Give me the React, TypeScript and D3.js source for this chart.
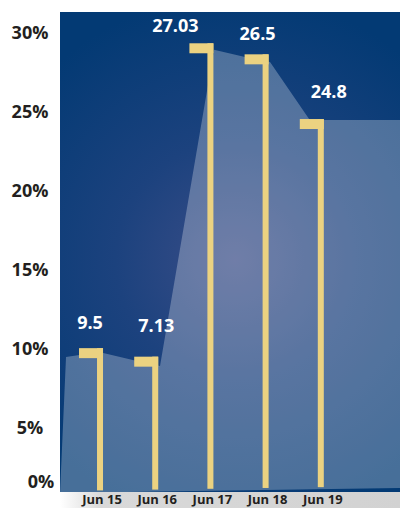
import React from "react";
import * as d3 from "d3";

// ---- data ----
const categories = ["Jun 15", "Jun 16", "Jun 17", "Jun 18", "Jun 19"];
const valueLabels = ["9.5", "7.13", "27.03", "26.5", "24.8"];
// level (in %) at which each marker cap sits
const markerLevels = [9.68, 9.14, 29.0, 28.3, 24.2];
const yTicks = [0, 5, 10, 15, 20, 25, 30];
// outline of the translucent area (category position, level %)
const areaPositions = [-0.616, -0.018, 0.67, 1.087, 2.065, 2.627, 3.08, 3.8, 5.435];
const areaLevels = [9.43, 9.75, 9.18, 8.86, 28.9, 28.45, 28.13, 24.45, 24.45];

// ---- layout ----
const W = 400;
const H = 508;
const panel = { left: 60, right: 400, top: 12, bottom: 492 };
const labelDx = [-10, 1, -35, -8, 8];
const labelDy = [-19, -25, -11, -14, -21];
const FONT = "'Open Sans', 'Noto Sans', sans-serif";

export default function App() {
  const x = d3.scaleLinear().domain([-0.725, 5.435]).range([panel.left, panel.right]);
  const y = d3.scaleLinear().domain([0, 5, 30]).range([481, 427, 32.5]);

  const baseL = panel.bottom + 1;
  const baseR = panel.bottom - 4;
  const baseAt = (px: number) =>
    baseL + ((px - panel.left) / (panel.right - panel.left)) * (baseR - baseL);

  const pts: [number, number][] = [[panel.left, baseL]];
  areaPositions.forEach((p, i) => pts.push([x(p), y(areaLevels[i])]));
  pts.push([panel.right, baseR]);
  const areaPath = d3.line()(pts) + "Z";

  const capW = 24;
  const capH = 10;
  const stemW = 6;

  return (
    <svg
      width={W}
      height={H}
      style={{ position: "absolute", left: 0, top: 0, display: "block" }}
      fontFamily={FONT}
    >
      <defs>
        <radialGradient id="bg" gradientUnits="userSpaceOnUse" cx={235} cy={260} r={265}>
          <stop offset="0" stopColor="#3b4e88" />
          <stop offset="0.45" stopColor="#1c427e" />
          <stop offset="1" stopColor="#033a74" />
        </radialGradient>
        <linearGradient id="strip" x1="0" x2="1" y1="0" y2="0">
          <stop offset="0" stopColor="#ffffff" />
          <stop offset="0.12" stopColor="#d9d9d9" />
          <stop offset="1" stopColor="#d2d2d2" />
        </linearGradient>
      </defs>

      <rect x={0} y={0} width={W} height={H} fill="#ffffff" />
      <rect
        x={panel.left}
        y={panel.top}
        width={panel.right - panel.left}
        height={panel.bottom - panel.top}
        fill="url(#bg)"
      />
      <path d={areaPath} fill="#ffffff" fillOpacity={0.27} />

      {/* bottom label strip */}
      <rect x={panel.left} y={panel.bottom} width={panel.right - panel.left} height={H - panel.bottom} fill="url(#strip)" />

      {/* y axis labels */}
      {yTicks.map((t) => (
        <text
          key={t}
          x={t === 0 ? 41 : 30}
          y={y(t) + 6.5}
          textAnchor="middle"
          fontSize={18}
          fontWeight={700}
          fill="#231f20"
        >
          {t}%
        </text>
      ))}

      {/* markers */}
      {markerLevels.map((v, i) => {
        const cx = x(i);
        const right = cx + stemW / 2;
        const capTop = y(v) - capH / 2;
        return (
          <g key={i}>
            <rect
              x={right - stemW}
              y={capTop}
              width={stemW}
              height={baseAt(cx) - 2 - capTop}
              fill="#ebd281"
            />
            <rect x={right - capW} y={capTop} width={capW} height={capH} fill="#ebd281" />
            <text
              x={cx + labelDx[i]}
              y={capTop + labelDy[i]}
              textAnchor="middle"
              fontSize={18}
              fontWeight={700}
              fill="#ffffff"
            >
              {valueLabels[i]}
            </text>
          </g>
        );
      })}

      {/* x labels */}
      {categories.map((c, i) => (
        <text
          key={c}
          x={x(i) + 2}
          y={504}
          textAnchor="middle"
          fontSize={13}
          fontWeight={700}
          fill="#231f20"
        >
          {c}
        </text>
      ))}
    </svg>
  );
}
